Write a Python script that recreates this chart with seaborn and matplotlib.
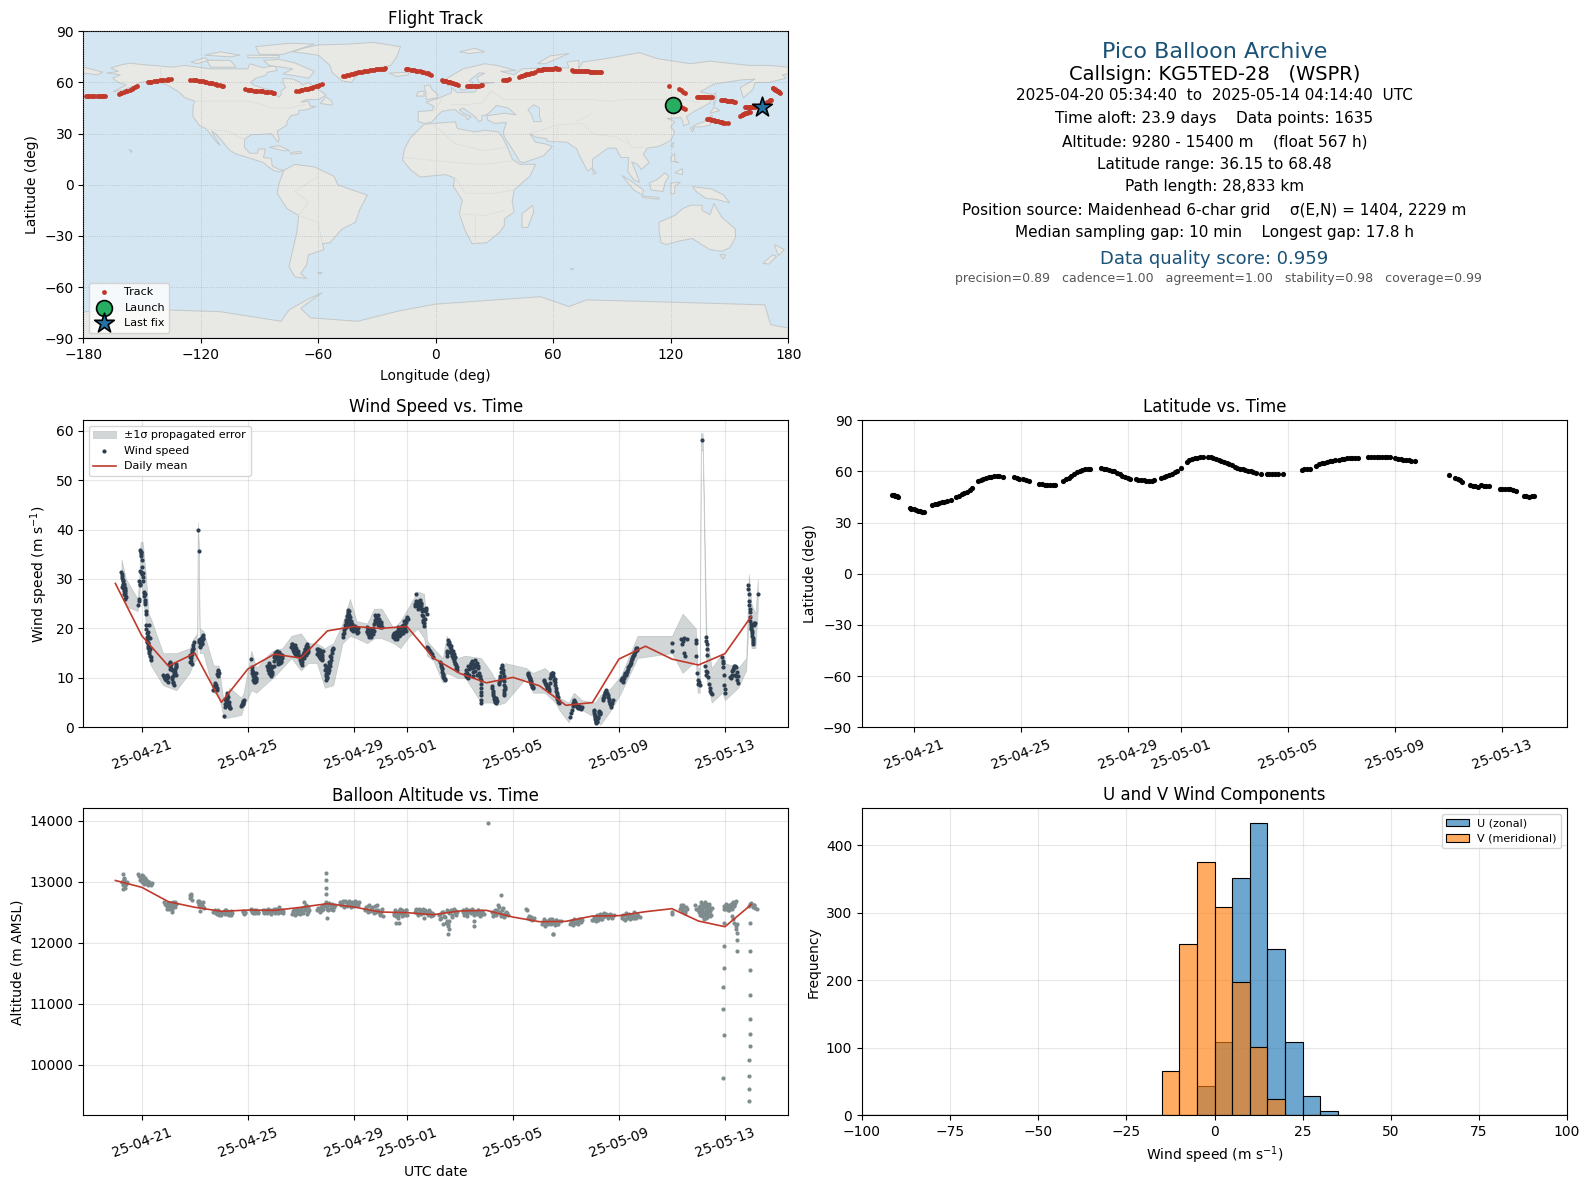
import numpy as np
import pandas as pd
import matplotlib
matplotlib.use('Agg')
import matplotlib.pyplot as plt
import matplotlib.dates as mdates
import seaborn as sns

# all times below are days after 2025-04-20 00:00 UTC
wind_t = [0.23,0.24,0.25,0.26,0.27,0.28,0.30,0.26,0.28,0.30,0.33,0.35,0.37,0.34,0.38,0.40,0.36,
          0.84,0.90,0.88,0.91,0.92,0.93,0.94,0.95,0.96,0.98,1.00,1.02,0.92,0.95,0.99,1.03,1.05,1.07,1.08,1.10,1.12,1.13,1.14,1.15,
          1.16,1.17,1.18,1.19,1.20,1.21,1.22,1.23,1.24,1.26,1.28,1.30,1.34,1.32,1.27,1.25,
          1.80,1.84,1.88,1.92,1.95,1.90,1.98,2.02,2.05,2.08,2.10,2.12,2.14,2.17,2.20,2.23,2.26,2.28,2.30,2.18,2.22,
          2.80,2.82,2.84,2.86,2.88,2.90,2.92,2.94,2.95,2.91,3.11,3.15,3.14,3.17,3.19,3.22,3.25,3.28,3.30,3.32,3.20,3.26,
          3.70,3.73,3.76,3.80,3.83,3.85,3.87,3.90,3.88,4.09,4.12,4.15,4.18,4.20,4.23,4.25,4.28,4.30,4.33,4.22,4.75,4.78,4.80,4.82,4.84,
          5.13,5.15,5.17,5.19,5.20,5.22,5.24,5.26,5.28,5.30,5.32,5.21,5.73,5.76,5.79,5.82,5.85,5.88,5.90,5.92,5.87,
          5.97,6.00,6.03,6.06,6.09,6.12,6.15,6.18,6.21,6.24,6.27,6.30,6.64,6.68,6.72,6.75,6.78,6.82,6.85,6.88,6.90,6.70,
          6.96,7.00,7.03,7.06,7.09,7.12,7.15,7.18,7.22,7.25,7.28,7.60,7.63,7.66,7.69,7.72,7.75,7.78,7.80,7.82,
          7.90,7.92,7.94,7.96,7.98,8.00,8.02,8.04,8.06,8.08,8.10,8.12,8.14,8.16,8.18,8.20,8.22,
          8.57,8.60,8.63,8.66,8.69,8.72,8.74,8.76,8.78,8.80,8.82,8.84,8.86,8.88,8.90,8.92,8.94,8.96,8.98,9.04,9.07,9.10,9.13,9.15,9.17,
          9.48,9.51,9.54,9.57,9.60,9.63,9.66,9.69,9.72,9.74,9.76,9.79,9.82,9.85,9.88,9.91,9.94,9.97,10.00,10.03,10.05,
          10.47,10.50,10.53,10.56,10.59,10.62,10.65,10.68,10.71,10.75,10.78,10.81,10.84,10.87,10.90,10.93,10.96,10.99,11.03,
          11.30,11.32,11.34,11.36,11.38,11.40,11.42,11.44,11.46,11.48,11.50,11.52,11.54,11.56,11.58,11.60,11.62,11.65,11.68,11.72,11.75,
          11.76,11.80,11.84,11.88,11.92,11.96,12.00,12.26,12.29,12.32,12.35,12.38,12.41,12.45,
          12.50,12.53,12.56,12.59,12.62,12.65,12.68,12.71,12.74,12.77,12.80,12.83,12.86,12.90,
          13.20,13.24,13.28,13.32,13.36,13.40,13.44,13.48,13.52,13.56,13.60,13.64,13.68,13.72,13.76,13.80,13.78,13.79,13.80,13.80,13.81,13.81,
          14.20,14.23,14.26,14.29,14.32,14.35,14.38,14.40,14.47,14.50,14.53,14.56,14.59,14.62,14.65,14.68,14.70,14.66,14.67,14.68,
          15.55,15.58,15.61,15.64,15.67,15.70,15.73,15.77,
          16.17,16.21,16.25,16.29,16.33,16.37,16.41,16.45,16.49,16.53,16.57,16.60,16.63,16.66,16.69,16.72,16.75,
          17.16,17.19,17.22,17.25,17.28,17.30,17.34,17.38,17.42,17.46,17.50,17.55,17.60,
          18.05,18.07,18.09,18.11,18.13,18.15,18.18,18.21,18.24,18.27,18.30,18.39,18.43,18.47,18.51,18.55,18.59,18.63,18.67,18.71,18.76,
          19.08,19.12,19.16,19.20,19.24,19.28,19.32,19.36,19.40,19.44,19.48,19.52,19.56,19.60,19.64,19.68,19.70,
          21.00,21.01,21.35,21.38,21.41,21.44,21.47,21.50,21.55,21.90,21.91,21.92,21.96,21.98,22.00,22.02,22.05,22.12,
          22.30,22.30,22.31,22.31,22.32,22.26,22.28,22.30,22.33,22.36,22.39,22.42,22.45,22.48,22.50,
          22.90,22.91,22.92,22.94,22.96,22.98,23.00,23.00,23.20,23.24,23.28,23.32,23.36,23.40,23.44,23.48,23.50,23.38,
          23.88,23.87,23.89,23.90,23.92,23.93,23.94,23.95,23.97,23.99,24.01,24.03,24.05,24.07,24.10,24.12,24.24]
wind_v = [31.5,31.0,30.6,30.2,29.8,29.0,28.5,28.3,28.7,28.2,28.6,28.1,27.5,27.0,26.8,26.3,26.0,
          24.7,25.6,26.0,29.5,29.0,31.6,35.8,35.4,35.0,35.5,33.9,31.3,28.7,31.4,31.0,31.2,29.5,27.4,27.2,27.0,25.3,25.0,23.5,23.0,
          20.7,19.8,19.0,18.3,17.8,17.5,17.0,16.4,16.0,15.5,15.0,14.5,13.6,18.0,20.6,19.2,
          10.5,10.2,9.8,10.3,10.0,9.5,10.1,12.8,13.2,12.5,12.0,11.5,9.7,9.1,8.6,10.9,11.8,12.4,12.8,10.4,11.4,
          14.2,14.6,14.0,13.5,12.8,15.2,16.1,16.6,17.2,14.9,40.0,35.6,17.6,17.2,16.5,17.9,16.9,17.6,18.0,18.7,17.0,18.2,
          7.5,8.4,8.9,8.1,7.9,10.8,11.4,11.0,11.6,2.2,4.2,4.8,5.4,6.3,7.0,5.0,4.5,4.2,3.9,6.5,4.4,4.6,5.0,5.4,5.6,
          13.9,11.5,10.9,10.3,9.5,9.2,10.6,9.1,10.0,9.7,9.9,11.1,12.3,11.6,12.6,10.8,11.8,10.4,11.2,12.2,12.0,
          12.5,13.5,14.6,15.2,14.8,13.2,12.8,14.7,14.2,13.4,14.5,14.0,16.3,16.8,15.9,15.2,14.8,16.1,15.5,15.0,14.4,15.7,
          13.6,13.0,12.6,13.9,14.8,15.3,15.8,16.4,16.8,15.6,15.2,14.9,15.3,15.8,14.5,14.0,15.1,14.2,13.8,15.5,
          12.7,11.5,10.8,9.5,10.2,11.0,11.9,11.2,12.6,13.1,12.4,13.6,14.3,15.0,15.6,16.1,15.8,
          18.3,18.9,19.6,20.6,21.2,20.2,22.5,23.4,23.8,22.8,23.5,21.5,20.8,21.6,21.0,19.9,20.6,20.0,19.4,20.4,19.5,19.0,19.8,19.2,20.0,
          20.2,19.4,18.9,18.3,19.7,19.0,18.6,19.2,20.1,19.4,20.8,21.4,22.3,22.6,21.6,22.7,21.5,21.2,20.4,20.9,20.2,
          18.2,18.8,18.5,17.9,19.1,18.4,19.6,20.3,19.3,18.6,19.5,20.2,19.0,20.7,21.5,20.1,21.7,22.3,21.9,
          25.0,24.5,25.5,26.9,25.2,24.0,24.6,25.2,25.6,24.2,24.4,25.2,25.0,23.6,22.8,21.8,21.4,20.4,23.5,24.2,23.0,
          16.2,16.0,15.7,15.5,15.1,14.8,14.3,13.3,12.4,11.8,10.8,10.2,9.9,9.6,
          14.5,15.5,17.7,16.8,16.2,15.5,15.9,14.8,14.1,13.5,14.2,12.8,12.0,11.6,
          10.8,11.5,10.2,9.9,11.8,12.8,13.4,11.2,12.2,13.6,12.6,13.1,11.9,11.0,10.0,9.6,8.8,8.0,7.2,6.5,5.6,5.0,
          8.4,7.4,6.6,5.8,5.2,5.0,6.0,5.4,8.8,9.6,10.4,11.2,12.6,11.5,10.3,9.4,8.2,7.5,7.0,6.5,
          10.9,10.5,10.1,9.8,9.3,8.8,8.2,7.9,
          9.6,9.0,8.6,7.9,8.3,7.4,9.9,10.8,11.0,10.9,9.8,9.2,7.9,7.0,6.1,5.4,4.9,
          2.0,2.8,3.6,4.3,4.9,5.5,5.1,4.6,4.2,4.0,4.3,3.8,4.2,
          3.6,2.9,2.2,1.7,1.2,0.9,1.3,2.1,3.1,2.6,3.1,5.6,6.1,7.0,7.5,6.9,6.1,5.3,4.8,4.2,5.5,
          9.6,9.9,9.2,10.4,11.0,10.6,11.4,12.1,12.7,13.0,13.8,14.4,14.6,15.2,15.8,16.1,15.7,
          17.0,15.5,17.8,16.9,17.4,18.0,15.1,14.4,17.9,17.6,17.0,14.4,10.9,9.6,8.8,9.2,8.6,58.1,
          18.3,17.5,16.9,15.8,14.6,12.5,11.4,10.6,11.2,10.2,8.8,7.9,7.4,7.0,6.7,
          14.3,13.4,13.0,12.1,10.6,8.6,7.7,6.9,10.2,10.0,11.3,11.8,12.3,12.2,11.2,9.0,10.4,10.6,
          28.8,27.9,26.9,25.6,24.8,24.0,23.3,22.4,20.8,20.1,19.5,18.4,17.7,16.8,20.6,21.0,26.9]

# second pass over the same streaks, where the reference is thicker
wind_t2 = [0.28,0.31,0.33,0.36,0.38,0.97,1.01,1.04,1.09,1.11,1.19,1.22,1.25,1.28,1.31,1.33,
           1.86,1.94,2.00,2.06,2.11,2.15,2.19,2.24,2.27,2.29,2.83,2.87,2.89,2.93,3.18,3.21,3.24,3.27,3.29,
           3.78,3.82,3.86,4.14,4.17,4.21,4.24,4.27,4.31,4.79,4.81,4.83,
           5.16,5.18,5.23,5.25,5.27,5.29,5.31,5.75,5.78,5.81,5.84,5.86,5.89,5.91,
           5.99,6.02,6.05,6.08,6.11,6.14,6.17,6.20,6.23,6.26,6.29,
           6.66,6.69,6.73,6.76,6.80,6.83,6.86,6.89,6.98,7.02,7.05,7.08,7.11,7.14,7.17,7.20,7.24,7.27,
           7.62,7.65,7.68,7.71,7.74,7.77,7.79,7.81,7.93,7.95,7.97,7.99,8.01,8.03,8.05,8.07,8.09,
           8.62,8.68,8.71,8.75,8.77,8.79,8.81,8.83,8.85,8.87,8.89,8.91,8.93,8.95,8.97,
           9.50,9.53,9.56,9.59,9.62,9.65,9.68,9.71,9.78,9.81,9.84,9.87,9.90,9.93,9.96,9.99,10.02,
           10.49,10.52,10.55,10.58,10.61,10.64,10.67,10.70,10.73,10.76,10.80,10.83,10.86,10.89,10.92,10.95,10.98,11.01,
           11.33,11.37,11.41,11.45,11.49,11.53,11.57,11.61,11.64,11.67,11.70,11.73,12.28,12.31,12.34,12.37,12.40,12.43,
           12.52,12.55,12.58,12.61,12.64,12.67,12.70,12.73,12.76,12.79,12.82,12.85,12.88,
           13.22,13.26,13.30,13.34,13.38,13.42,13.46,13.50,13.54,13.58,13.62,13.66,13.70,13.74,
           14.22,14.25,14.28,14.31,14.34,14.37,14.49,14.52,14.55,14.58,14.61,14.64,14.67,14.69,
           15.57,15.60,15.63,15.66,15.69,15.72,15.75,
           16.19,16.23,16.27,16.31,16.35,16.39,16.43,16.47,16.51,16.55,16.59,16.62,16.65,16.68,16.71,
           17.32,17.36,17.40,17.44,17.48,17.52,17.58,
           18.06,18.08,18.10,18.12,18.14,18.16,18.20,18.23,18.26,18.29,18.41,18.45,18.49,18.53,18.57,18.61,18.65,18.69,18.73,
           19.10,19.14,19.18,19.22,19.26,19.30,19.34,19.38,19.42,19.46,19.50,19.54,19.58,19.62,19.66,
           23.22,23.26,23.30,23.34,23.38,23.42,23.46,23.96,23.98,24.00,24.02,24.04,24.06,24.08,24.11]
wind_v2 = [29.6,27.6,28.9,27.8,27.2,34.6,32.5,30.4,26.5,25.8,17.2,18.5,17.0,16.2,15.8,14.2,
           9.9,10.6,9.2,11.8,12.9,10.2,9.0,11.2,10.6,12.1,13.2,14.5,15.6,15.8,17.9,16.3,17.5,17.0,17.9,
           8.6,7.6,10.4,5.8,4.6,5.6,6.2,5.2,4.0,4.8,5.2,4.7,
           12.2,10.8,9.8,10.2,9.3,10.9,9.4,12.0,13.0,10.9,11.9,12.5,11.4,10.7,
           14.2,15.0,14.0,15.5,14.4,13.6,15.2,13.0,14.8,13.2,14.6,
           16.9,16.4,15.3,16.6,15.5,14.7,14.6,15.4,14.4,13.5,13.2,14.3,14.0,15.0,15.9,14.6,15.0,16.3,
           15.8,14.8,14.4,15.6,13.9,14.9,13.7,14.7,10.4,11.9,12.2,9.9,11.0,12.0,11.5,13.2,14.4,
           19.0,20.0,21.8,21.0,22.2,23.0,22.0,20.5,22.3,21.2,19.8,20.8,19.6,20.2,19.8,
           19.2,19.8,18.7,18.4,19.9,18.3,19.6,18.8,21.8,22.8,21.2,22.2,20.6,22.0,21.0,20.2,21.2,
           18.6,19.0,18.0,19.3,17.8,18.9,19.3,18.4,19.4,20.2,19.0,20.4,20.0,19.6,20.8,19.4,21.2,22.2,
           24.8,25.3,25.0,24.6,25.8,24.5,24.0,22.5,21.0,22.0,24.0,23.8,12.9,12.0,11.2,10.5,10.0,9.8,
           15.0,16.8,17.2,16.6,15.2,16.4,14.5,15.4,13.8,14.8,13.0,12.6,12.2,
           10.3,11.0,12.3,10.5,12.1,13.0,11.9,10.4,12.9,11.4,12.3,10.6,12.4,10.4,
           7.9,7.0,6.2,5.6,5.4,5.8,9.2,10.0,12.0,12.2,11.0,9.8,8.6,7.8,
           10.7,10.3,10.0,9.5,9.0,8.5,8.1,
           9.3,8.8,8.2,8.1,7.7,9.0,10.4,10.9,10.4,9.5,8.6,7.4,6.6,5.8,5.1,
           5.3,4.9,4.4,4.1,4.0,4.2,4.0,
           3.2,2.5,2.0,1.4,1.0,1.1,1.8,2.9,3.3,2.8,5.9,6.5,7.2,7.2,6.5,5.7,5.0,4.5,4.9,
           9.8,9.5,10.0,10.7,10.8,11.2,11.8,12.4,12.9,13.4,14.1,14.5,14.9,15.5,16.0,
           10.2,10.5,11.6,12.1,12.3,10.4,9.6,21.5,20.4,19.8,19.0,18.0,17.2,20.8,21.0]

band_t = [0.23,0.40,0.84,0.90,0.95,1.03,1.15,1.25,1.34,1.8,2.3,2.8,2.95,3.09,3.11,3.15,3.18,3.32,3.7,3.9,4.09,4.3,4.75,4.84,
          5.13,5.32,5.73,5.95,6.3,6.64,7.0,7.28,7.6,7.9,8.22,8.57,8.85,9.1,9.5,9.76,10.05,10.5,10.75,11.03,11.4,11.65,11.76,12.0,
          12.35,12.5,12.9,13.2,13.8,14.2,14.4,14.7,15.5,15.75,16.2,16.6,16.75,17.1,17.3,17.6,18.1,18.3,18.7,19.08,19.7,21.0,21.4,
          21.9,21.97,22.05,22.09,22.16,22.3,22.5,22.9,23.0,23.5,23.8,23.9,24.0,24.15,24.24]
band_lo = [28,24.5,23.5,26,30,27,21,14,12.5,8.5,7.5,11,13,14,38,34,15,15,7,6.5,1.8,2,2.5,4,7.5,7,9,10,12,14,11.5,13,13,8,8.5,17,18.5,18,17,18,18,17,16,18,20,18,14.5,13.5,
           9,11,10,10,5,5,4.5,5,10,7,7,5,3.5,1,4,3.5,2,0.5,3.5,7,14,15,11,13.5,7,7,56,56,10,5,7,5.5,8,11.5,22,16,16,24]
band_hi = [34,30,26,30,37.5,37.5,31,23,22,15,15,16,18,19,41.5,37,20,19.5,12.5,12.5,5,8,6,7,15.5,12,14.5,15.5,16,18.5,19,17,17,16,17,21,26,21.5,21,24,24,20,21.5,24,27.5,27,17.5,16,
           14,18.5,14,14.5,14,11,9,13,12,11,12,10,6,5,7,5.5,5,6.5,8,10.5,18.5,18.5,23,20,12,12,59.5,59.5,19,12,15,13,12,14,31,25,23,30]

mean_t = list(range(25))
wind_mean = [29.1,18.5,12.4,15.0,5.05,11.8,14.8,14.0,19.5,20.4,20.0,20.4,14.0,10.9,9.0,10.1,8.4,4.45,5.0,13.8,16.4,13.8,12.6,14.9,22.5]
alt_mean = [13020,12907,12672,12580,12514,12535,12530,12580,12640,12585,12503,12492,12459,12520,12530,12420,12344,12350,12437,12443,12508,12557,12355,12262,12628]

alt_t = [0.25,0.27,0.29,0.31,0.33,0.35,0.37,0.40,0.44,0.30,0.34,0.87,0.90,0.95,1.00,1.04,1.08,1.12,1.16,1.20,1.25,1.30,1.34,1.37,1.02,1.10,
         1.85,1.90,1.95,2.00,2.05,2.10,2.15,2.20,2.24,2.28,2.12,2.80,2.84,2.87,2.90,3.10,3.14,3.18,3.22,3.26,3.30,3.34,3.16,
         3.70,3.76,3.82,3.88,3.94,4.00,4.06,4.12,4.18,4.24,4.30,4.36,4.40,4.80,4.84,4.90,5.10,5.16,5.22,5.28,5.34,5.40,
         5.56,5.62,5.68,5.74,5.80,5.86,5.92,5.98,6.04,6.10,6.16,6.22,6.28,6.33,6.66,6.72,6.78,6.84,6.90,6.96,7.02,7.08,7.14,7.20,7.26,7.30,7.12,7.18,
         7.60,7.66,7.72,7.78,7.84,7.90,7.94,7.98,8.02,8.06,8.10,8.16,8.22,8.30,7.95,7.95,7.95,7.93,7.97,
         8.46,8.52,8.58,8.64,8.70,8.76,8.82,8.88,8.94,9.00,9.06,9.12,9.20,9.40,9.46,9.52,9.58,9.64,9.70,9.76,9.82,9.88,9.94,10.00,10.06,10.10,
         10.50,10.55,10.60,10.65,10.70,10.75,10.80,10.85,10.90,10.95,11.00,10.70,11.30,11.36,11.42,11.48,11.54,11.60,11.66,11.72,11.78,11.84,11.90,11.96,12.00,
         12.20,12.26,12.32,12.38,12.44,12.50,12.54,12.56,12.58,12.60,12.66,12.72,12.78,12.84,12.90,12.57,
         13.10,13.16,13.22,13.28,13.34,13.40,13.46,13.52,13.58,13.64,13.70,13.76,13.82,13.90,13.55,13.55,
         14.20,14.26,14.32,14.38,14.44,14.50,14.56,14.62,14.68,14.74,14.80,14.05,14.55,
         15.50,15.52,15.56,15.60,15.64,15.68,15.72,15.80,16.10,16.16,16.22,16.28,16.34,16.40,16.46,16.52,16.58,16.64,16.70,16.80,16.50,
         17.15,17.20,17.25,17.30,17.35,17.40,17.45,17.50,17.55,17.60,18.00,18.06,18.12,18.18,18.24,18.30,18.36,18.42,18.48,18.54,18.60,18.66,18.72,18.80,
         19.10,19.16,19.22,19.28,19.34,19.40,19.46,19.52,19.58,19.64,19.70,19.80,21.00,21.01,21.30,21.35,21.40,21.45,21.50,21.55,
         21.88,21.90,22.00,22.03,22.06,22.09,22.12,22.15,22.18,22.21,22.24,22.27,22.30,22.33,22.36,22.39,22.42,22.45,22.50,22.10,22.20,22.30,22.40,22.15,22.25,22.35,
         22.95,23.00,23.05,23.10,23.15,23.20,23.25,23.30,23.35,23.40,23.28,23.32,23.36,23.40,23.42,
         22.96,22.96,22.95,22.94,22.94,22.95,22.94,23.44,23.44,23.45,23.46,23.94,23.95,23.95,23.94,23.94,23.93,23.93,23.92,23.92,23.91,23.91,
         23.90,23.95,24.00,24.05,24.10,24.15,24.20,23.98,24.08]
alt_v = [13000,12950,13120,13050,12990,12900,13000,12960,12990,12880,13060,13130,13090,13050,13000,13090,12960,13060,13020,12970,13000,12960,12940,12980,13110,13000,
         12670,12620,12560,12650,12590,12620,12510,12600,12670,12640,12540,12740,12800,12760,12700,12680,12610,12520,12640,12600,12660,12570,12680,
         12500,12530,12470,12540,12490,12450,12510,12470,12530,12500,12460,12520,12480,12520,12470,12500,12550,12510,12530,12480,12520,12500,
         12530,12480,12510,12550,12500,12470,12520,12560,12490,12520,12580,12500,12540,12490,12470,12520,12450,12560,12490,12470,12530,12480,12560,12600,12500,12530,12670,12620,
         12530,12570,12510,12600,12550,12620,12670,12600,12540,12650,12560,12600,12530,12620,13136,13020,12890,12790,12410,
         12660,12610,12690,12590,12670,12620,12680,12590,12650,12600,12680,12640,12660,12530,12580,12510,12610,12550,12590,12480,12540,12620,12500,12450,12560,12430,
         12460,12530,12330,12400,12520,12560,12440,12510,12470,12540,12450,12320,12500,12560,12450,12530,12470,12550,12410,12510,12460,12540,12430,12480,12450,
         12450,12380,12510,12300,12420,12540,12150,12270,12350,12480,12530,12420,12560,12460,12500,12230,
         12500,12460,12560,12430,12520,12480,12550,12450,12510,12470,12540,12430,12510,12470,12350,12280,
         12500,12430,12540,12470,12610,12510,12440,12570,12420,12500,12450,13967,12780,
         12550,12530,12400,12440,12380,12420,12370,12400,12300,12380,12280,12360,12310,12390,12330,12150,12290,12370,12310,12350,12150,
         12310,12350,12290,12380,12320,12360,12300,12390,12340,12370,12370,12420,12360,12450,12400,12470,12390,12480,12430,12460,12400,12470,12420,12450,
         12400,12460,12370,12490,12420,12380,12450,12400,12500,12410,12460,12420,12510,12470,12550,12610,12520,12580,12490,12560,
         12620,12560,12530,12590,12450,12670,12560,12620,12480,12640,12510,12400,12600,12460,12560,12630,12520,12440,12570,12500,12380,12640,12550,12430,12660,12490,
         12600,12560,12630,12580,12540,12620,12590,12660,12600,12680,12430,12380,12330,12270,12230,
         12320,11940,11580,11270,10910,10480,9775,12040,11860,12300,12160,12330,11860,11550,11140,10745,10500,10300,10070,9810,9595,9400,
         12600,12640,12630,12590,12620,12570,12550,12650,12610]

alt_t2 = [0.26,0.32,0.36,0.93,0.98,1.06,1.14,1.18,1.22,1.28,1.32,
          1.88,1.93,1.98,2.03,2.08,2.13,2.18,2.22,2.26,2.82,3.12,3.16,3.20,3.24,3.28,3.32,
          3.73,3.79,3.85,3.91,3.97,4.03,4.09,4.15,4.21,4.27,4.33,4.38,4.82,4.88,5.13,5.19,5.25,5.31,5.37,
          5.59,5.65,5.71,5.77,5.83,5.89,5.95,6.01,6.07,6.13,6.19,6.25,6.31,6.69,6.75,6.81,6.87,6.93,6.99,7.05,7.11,7.17,7.23,7.28,
          7.63,7.69,7.75,7.81,7.87,7.92,7.99,8.04,8.08,8.13,8.19,8.25,
          8.49,8.55,8.61,8.67,8.73,8.79,8.85,8.91,8.97,9.03,9.09,9.15,
          9.43,9.49,9.55,9.61,9.67,9.73,9.79,9.85,9.91,9.97,10.03,
          10.52,10.58,10.63,10.68,10.73,10.78,10.83,10.88,10.93,10.98,
          11.33,11.39,11.45,11.51,11.57,11.63,11.69,11.75,11.81,11.87,11.93,11.98,
          12.23,12.29,12.35,12.41,12.47,12.52,12.55,12.63,12.69,12.75,12.81,12.87,
          13.13,13.19,13.25,13.31,13.37,13.43,13.49,13.55,13.61,13.67,13.73,13.79,13.85,
          14.23,14.29,14.35,14.41,14.47,14.53,14.59,14.65,14.71,14.77,
          16.13,16.19,16.25,16.31,16.37,16.43,16.49,16.55,16.61,16.67,16.73,
          17.18,17.28,17.38,17.48,17.58,18.03,18.09,18.15,18.21,18.27,18.33,18.39,18.45,18.51,18.57,18.63,18.69,18.75,
          19.13,19.19,19.25,19.31,19.37,19.43,19.49,19.55,19.61,19.67,19.73,
          21.33,21.38,21.43,21.48,21.53,22.02,22.05,22.08,22.11,22.14,22.17,22.20,22.23,22.26,22.29,22.32,22.35,22.38,22.41,22.44,22.47,
          22.98,23.03,23.08,23.13,23.18,23.23,23.28,23.33,23.38]
alt_v2 = [13000,13020,12950,13020,13060,13030,13000,13010,12950,12990,12970,
          12640,12600,12630,12560,12650,12580,12660,12620,12580,12780,12660,12640,12600,12650,12620,12590,
          12510,12490,12520,12460,12510,12480,12500,12540,12470,12510,12490,12450,12500,12480,12530,12490,12510,12530,12480,
          12500,12530,12480,12520,12540,12500,12530,12510,12550,12480,12560,12510,12520,12490,12540,12470,12510,12540,12560,12510,12590,12530,12470,12590,
          12560,12530,12590,12530,12600,12640,12560,12640,12610,12560,12640,12590,
          12630,12650,12600,12680,12600,12650,12610,12670,12640,12610,12660,12610,
          12550,12540,12600,12520,12570,12520,12600,12500,12540,12480,12500,
          12490,12430,12510,12450,12530,12480,12540,12500,12450,12530,
          12530,12480,12550,12500,12540,12480,12530,12500,12470,12510,12450,12470,
          12470,12400,12510,12430,12320,12360,12300,12500,12450,12540,12490,12520,
          12530,12500,12480,12530,12500,12530,12490,12520,12490,12530,12500,12460,12520,
          12480,12500,12450,12530,12580,12480,12530,12470,12450,12480,
          12340,12360,12320,12340,12370,12300,12380,12340,12370,12300,12350,
          12330,12340,12320,12370,12380,12370,12400,12420,12370,12430,12390,12470,12440,12470,12450,12430,12450,12400,
          12430,12390,12450,12400,12470,12430,12460,12400,12440,12470,12430,
          12580,12540,12610,12520,12590,12500,12600,12480,12560,12640,12500,12590,12460,12620,12540,12420,12560,12600,12480,12540,12450,
          12550,12600,12620,12530,12590,12640,12560,12620,12650]

lat_t = [0.20,0.26,0.32,0.38,0.43,0.85,0.92,1.00,1.08,1.16,1.24,1.32,1.40,1.70,1.78,1.86,1.95,2.05,2.15,2.25,2.40,2.60,2.70,2.80,2.90,3.00,3.10,3.20,
         3.40,3.50,3.60,3.70,3.80,3.90,4.00,4.10,4.20,4.35,4.75,4.85,4.95,5.10,5.20,5.30,5.70,5.80,5.90,6.00,6.10,6.20,6.30,
         6.60,6.70,6.80,6.90,7.00,7.10,7.20,7.30,7.40,7.50,7.60,8.00,8.10,8.20,8.30,8.40,8.50,8.60,8.70,8.80,8.90,9.00,9.10,
         9.30,9.40,9.50,9.60,9.70,9.80,9.90,10.00,10.25,10.35,10.45,10.55,10.65,10.75,10.85,11.00,11.20,11.30,11.40,11.50,11.60,11.70,11.80,
         12.00,12.10,12.20,12.30,12.40,12.50,12.60,12.70,12.80,12.90,13.00,13.10,13.20,13.30,13.40,13.50,13.60,13.70,13.80,14.00,14.20,14.30,14.40,14.50,14.60,14.80,
         15.50,15.60,15.70,15.80,16.05,16.15,16.25,16.35,16.45,16.55,16.65,16.75,16.90,17.00,17.10,17.20,17.30,17.40,17.50,17.60,
         18.00,18.10,18.20,18.30,18.40,18.50,18.60,18.70,18.80,19.00,19.10,19.20,19.30,19.40,19.50,19.60,19.75,
         21.00,21.25,21.33,21.42,21.50,21.80,21.90,22.00,22.10,22.20,22.30,22.40,22.50,22.90,23.00,23.10,23.20,23.30,23.40,23.50,23.80,23.90,24.00,24.10,24.18]
lat_v = [46.4,46.2,45.8,45.5,45.0,38.6,38.2,37.9,37.5,37.1,36.8,36.4,36.2,40.2,40.8,41.2,41.6,42.0,42.3,42.5,43.0,45.2,45.8,46.6,47.4,48.2,49.2,50.2,
         54.5,55.2,55.8,56.2,56.6,56.9,57.2,57.3,57.1,56.8,56.6,56.2,55.8,55.4,55.0,54.6,52.8,52.5,52.3,52.2,52.0,52.0,52.3,
         54.6,55.4,56.2,57.2,58.4,59.4,60.2,60.8,61.2,61.4,61.6,61.8,61.6,61.4,61.0,60.5,60.0,59.3,58.4,57.6,56.8,56.0,55.6,
         55.3,55.1,54.9,54.8,54.7,54.6,54.7,54.8,56.2,56.8,57.4,58.0,58.8,59.6,60.4,62.0,65.5,66.5,67.2,67.8,68.1,68.3,68.4,
         68.4,68.2,67.9,67.5,67.0,66.4,65.6,64.9,64.2,63.6,62.8,62.2,61.6,61.2,60.9,60.5,60.1,59.7,59.2,58.6,58.4,58.5,58.6,58.7,58.6,58.7,
         61.0,61.2,61.4,61.6,63.4,64.2,64.8,65.2,65.6,66.0,66.3,66.6,67.0,67.2,67.4,67.7,67.8,67.9,68.0,68.1,
         68.3,68.4,68.4,68.4,68.3,68.3,68.4,68.3,68.2,68.0,67.4,67.1,67.0,66.8,66.6,66.4,66.2,
         58.0,56.2,55.5,54.8,54.0,52.0,51.5,51.2,51.0,51.8,51.4,51.2,51.4,50.0,49.8,49.6,49.8,49.5,49.2,48.8,45.8,45.4,45.2,45.4,45.8]

track_lon = [-178.7,-177.5,-176,-174.5,-173,-171.5,-170,-169,-162,-160.5,-159,-157.5,-156,-154.5,-153.5,-152.6,
             -147,-145.5,-144,-142.5,-141,-139.5,-138,-136.5,-135,-125.6,-124,-122.5,-121,-119,-117.5,-116,-114.5,-113,-111.5,-110,-108.5,
             -97.4,-96,-94.5,-93,-91.5,-90,-88.5,-87,-85.5,-84,-82.5,-71.4,-70,-68.5,-67,-65.5,-64,-62.5,-61,-59.5,-58,
             -47.4,-45.5,-43.5,-41.5,-39.5,-37.5,-35.5,-33.5,-31.5,-29.5,-27.5,-25.8,-15.4,-14,-12.5,-11,-9.5,-8,-6.5,-5,-3.5,-2.3,
             3,4.5,6,7.5,9,10.5,11.5,16,17.5,19,20.5,22,23.8,34.1,35.2,36.4,37.5,42.7,44,45.5,47,48.5,50.5,52.4,54,55.5,57,58.5,60,61.5,62.8,
             69.3,71,72.5,74,75.5,77,78.5,80,81.5,83,84.4,
             119,124,125,126,127.2,133.2,134.7,136.2,137.7,139.2,141,145.4,147,148.5,150,151.5,153,
             122,123.5,125.3,126,127,138.4,139.8,141.2,142.6,144,145.4,146.8,147.8,149,
             155.3,156.2,157,158,159,159.8,160.5,158,159.2,160.4,161.6,163,168.4,169.2,170,171,172,172.8,173.4,174,175,176]
track_lat = [52.3,52.2,52.1,52.0,52.0,52.1,52.0,52.0,53.3,54.0,54.6,55.2,55.8,56.5,57.2,58.0,
             60.0,60.4,60.8,61.0,61.3,61.4,61.6,61.8,61.9,61.5,61.4,61.2,61.0,60.6,60.2,59.9,59.5,59.1,58.7,58.4,58.0,
             56.0,55.7,55.4,55.2,55.0,54.9,54.8,54.7,54.5,54.3,54.0,54.8,55.1,55.5,55.9,56.3,56.8,57.3,57.9,58.5,59.0,
             63.8,64.3,64.9,65.4,65.9,66.4,66.9,67.2,67.5,67.8,68.0,68.3,68.0,67.8,67.5,67.2,66.9,66.5,66.1,65.6,65.1,64.6,
             61.3,60.9,60.5,60.1,59.6,59.1,58.7,58.2,58.1,58.1,58.2,58.2,58.3,61.3,61.5,61.7,61.9,63.4,63.9,64.4,65.0,65.5,66.0,67.3,67.6,67.8,68.0,68.1,68.1,68.2,68.1,
             67.1,67.0,66.9,66.8,66.7,66.6,66.4,66.3,66.2,66.1,66.0,
             57.8,56.0,55.4,54.5,53.6,51.5,51.5,51.4,51.4,51.5,51.5,49.7,49.6,49.4,49.2,48.9,48.6,
             46.0,45.8,45.8,45.2,44.3,38.8,38.4,38.0,37.6,37.2,36.8,36.5,36.3,36.1,
             40.4,41.0,41.6,42.0,42.3,42.5,42.7,45.4,45.5,45.5,45.4,45.4,47.8,48.4,49.0,50.0,57.0,56.4,55.8,55.2,54.6,54.0]
track_lon2 = [-177,-175,-172,-170.5,-161,-158,-155,-146,-143,-140,-137,-123,-120,-118,-115,-112,-109,-95,-92,-89,-86,-83,-69,-66,-63,-60,
              -46.5,-44.5,-42.5,-40.5,-38.5,-36.5,-34.5,-32.5,-30.5,-28.5,-26.5,-14.5,-12,-10,-7,-4,3.8,5.2,6.8,8.2,9.8,17,18,20,21,23,35.8,
              43.4,44.8,46.2,47.8,49.4,53,54.8,56.2,57.8,59.2,60.8,62,70,71.8,73,74.8,76.2,77.8,79,80.8,82,83.8,
              134,135.5,137,138.5,140,146,147.8,149,151,152.5,139,140.5,142,143.2,145,146,156.5,157.5,158.5,159.5,158.6,160,161,162.3,
              168.8,169.6,170.6,172.4,173,173.8,174.5,175.5]
track_lat2 = [52.2,52.1,52.0,52.0,53.7,54.9,56.2,60.2,60.9,61.4,61.7,61.3,60.8,60.4,59.7,58.9,58.2,55.5,55.1,54.8,54.6,54.1,55.3,56.1,57.0,58.2,
              64.0,64.6,65.2,65.6,66.2,66.7,67.0,67.4,67.7,67.9,68.1,67.9,67.4,67.0,66.3,65.3,61.1,60.7,60.3,59.8,59.3,58.1,58.2,58.2,58.2,58.3,61.6,
              63.6,64.2,64.7,65.2,65.8,67.5,67.7,67.9,68.1,68.1,68.2,68.1,67.0,66.9,66.9,66.7,66.6,66.5,66.4,66.2,66.1,66.0,
              51.5,51.4,51.4,51.4,51.5,49.6,49.5,49.3,49.0,48.7,38.6,38.2,37.8,37.4,37.0,36.6,41.2,41.8,42.2,42.4,45.4,45.5,45.5,45.4,
              48.2,48.7,49.5,56.7,56.0,55.5,54.9,54.2]

launch_lon, launch_lat = 121.2, 47.0
last_lon, last_lat = 166.7, 45.6

bin_centers = [-12.5,-7.5,-2.5,2.5,7.5,12.5,17.5,22.5,27.5,32.5]
u_counts = [0,0,44,109,352,433,247,109,29,6]
v_counts = [65,254,376,308,198,101,24,0,0,0]

# rough coastlines, lon/lat
land = [
 [(-168,65.5),(-162,66.5),(-166,68.5),(-160,70.5),(-156,71.3),(-150,70.5),(-141,69.7),(-135,69),(-128,70),(-125,69.5),(-115,68),(-110,68),(-102,68),(-96,68),(-95,71),(-92,70),(-88,68.5),(-85,69.5),(-82,69.5),(-81,67),(-86,66),(-87,64),(-92,62.5),(-94.5,60),(-93,58.5),(-88,56.5),(-83,55.2),(-82,52.8),(-80,51.3),(-79,53),(-79,55),(-76.7,57),(-78,60),(-78,62.4),(-73,62),(-70,60.5),(-68,58.5),(-65,60),(-62,57),(-58,54.5),(-56,52.5),(-60,50),(-66,50),(-69,48.5),(-65,49),(-64,46),(-61,46),(-66,44),(-70,43.5),(-70,41.5),(-74,40.5),(-76,37),(-76,35),(-81,31.5),(-80,27),(-80.5,25),(-82,27),(-84,30),(-90,29.5),(-94,29.5),(-97.5,27),(-97.8,22),(-95,18.5),(-91,18.5),(-90.5,21),(-87,21),(-88,16),(-84,15.5),(-83.5,11),(-80,9),(-77.5,8.5),(-80,7.5),(-83,8.5),(-86,11),(-88,13),(-92,14.5),(-96,16),(-102,18),(-105.5,20.5),(-109,25.5),(-112.5,30),(-114.5,31.5),(-112,26.5),(-110,23),(-112,25),(-115,29.5),(-117.5,33),(-120.5,34.5),(-124,40),(-124,46),(-123,49),(-128,51),(-132,55),(-138,59),(-146,61),(-151,60),(-154,58),(-160,55.5),(-165,54.5),(-158,58.5),(-162,60),(-165,62.5),(-161,64.5)],
 [(-73,78),(-68,80),(-60,82),(-45,82.5),(-32,83.5),(-18,81),(-20,75),(-23,70),(-32,68),(-40,65),(-43,60),(-48,61),(-53,66),(-54,70),(-58,74),(-60,76)],
 [(-80,73.5),(-72,71.5),(-62,66.5),(-65,62.5),(-72,64),(-78,65),(-73,68),(-85,70),(-88,73)],
 [(-117,73),(-105,73),(-102,69),(-115,69)],
 [(-90,76.5),(-78,76.5),(-62,82.5),(-75,83),(-92,81)],
 [(-125,72),(-118,74.5),(-116,73),(-122,71)],
 [(-96,74.5),(-80,74.5),(-80,75.8),(-96,76)],
 [(-118,76),(-105,75),(-100,76),(-110,78)],
 [(-59,47.7),(-53,46.7),(-53,49),(-56,51.5)],
 [(-85,22),(-80,23),(-74.5,20),(-78,20)],
 [(-74,19),(-69,19.5),(-68.5,18.5),(-74,18)],
 [(-24,65.5),(-14,66),(-14,64.5),(-20,63.5)],
 [(-156.5,20.8),(-155,19.7),(-155.8,19)],
 [(-60.5,-51.5),(-58,-51.5),(-59,-52.3)],
 [(68.8,-49),(70.5,-49.2),(69.5,-49.8)],
 [(-77.5,8.5),(-72,12),(-62,10.5),(-52,5),(-50,0),(-44,-2.5),(-35,-6),(-39,-15),(-41,-22),(-48,-26),(-54,-34),(-58,-34.5),(-57,-38),(-65,-41),(-66,-47),(-69,-52),(-66,-55),(-72,-54),(-75,-48),(-73,-38),(-71,-28),(-70,-18),(-76,-14),(-81,-5),(-80,1)],
 [(-6,35.5),(10,37),(11,33),(20,31),(25,32),(32,31),(34,28),(37,21),(39,15),(43,12),(51,12),(48,5),(40,-3),(39,-10),(40,-16),(35,-20),(35,-24),(32.5,-28),(26,-34),(18.5,-34.5),(15,-27),(12,-17),(13.5,-9),(9,-1),(9.5,4),(5,6),(-4,5),(-8,4.5),(-13,9),(-17,14.5),(-16,21),(-13,27.5),(-10,31)],
 [(-9,37),(-9,43),(-2,43.5),(-1,46),(-5,48.5),(2,51),(8,54),(8,57),(11,54),(20,54.5),(23,59),(30,60),(22,60),(21,63),(25,65.5),(22,65.5),(17,61),(19,60),(16,56),(13,55.5),(11,59),(6,58),(5,62),(14,68),(25,71),(31,70),(41,67),(33,66.5),(40,64.5),(44,68),(54,68.5),(68,68.5),(67,72),(73,73),(73,68),(75,72),(87,74),(104,77.5),(113,74),(130,71),(140,72.5),(160,70),(170,70),(180,69),(180,65),(177,64.5),(179,62.5),(170,60),(163,60),(162,56),(157,51),(155.5,57),(163,62),(156,61.5),(142,59),(135,54.5),(141,53),(140,48),(132,43),(128,40),(129.5,36),(126.5,34.5),(126,37.5),(125,39.5),(121,39),(118,39),(122,37),(120,34),(122,31),(120,26),(114,22.5),(108,21.5),(106,18),(109,13),(105,9),(103,12),(100,13.5),(103,5),(104,1.5),(101,3),(98,8),(98.5,16),(94.5,16),(92,21.5),(88,21.5),(80,15),(80,10),(77.5,8),(73,18),(72,21),(67,25),(57,25.5),(56.5,27),(51,28),(48,30),(51,25),(56,24),(59.5,22.5),(55,17),(45,13),(43,13.5),(39,21),(35,28),(34.5,31),(36,36.5),(30,36),(26.5,38),(26,40.5),(29,41),(35,42),(41,41),(37,45),(31,46.5),(28,43),(26,41),(23.5,40.5),(23.5,38),(22,37),(20,40),(14,45),(12,44),(14,42),(18,40),(16,38),(15.5,40),(12,42),(10,44),(8,44),(3,43),(0,39.5),(-2,36.8),(-5.5,36)],
 [(-180,69),(-170,66),(-173,64.5),(-180,65.5)],
 [(-5,50),(1,51),(1,53),(-2,56),(-3,58.5),(-6,58),(-5,54),(-5,52)],
 [(-10,52),(-6,52),(-6,55),(-9,54.5)],
 [(131,34),(136,34),(140,35),(141.5,38),(141,41),(140,40),(137,37),(133,35.5)],
 [(140,42),(145,43.5),(142,45.5)],
 [(130,33.5),(132,33),(131,31)],
 [(142,46),(143,50),(143,54),(142,53)],
 [(120,23),(121.5,25),(121,22)],
 [(80,9.5),(82,7),(80.5,6)],
 [(120,16),(122,18.5),(122,14),(124,13),(120,14)],
 [(122,7),(126,9.5),(126,6)],
 [(109,1),(113,3),(117,7),(119,5),(117,1),(116,-4),(110,-3)],
 [(95,5.5),(100,2),(106,-3),(105.5,-6),(101,-3)],
 [(105,-6.5),(114,-7.5),(114,-8.5),(106,-7.5)],
 [(120,1),(125,1.5),(122,-1),(122,-5),(120,-5.5)],
 [(131,-1),(141,-2.5),(147,-6),(150,-10.5),(143,-8.5),(138,-8),(133,-4)],
 [(114,-22),(122,-18),(126,-14),(130,-12),(136,-12),(136,-15),(140,-17.5),(142,-11),(146,-19),(153,-26),(153,-31),(150,-37),(146,-39),(140,-38),(135,-34.5),(131,-31.5),(124,-33),(118,-35),(115,-34),(114,-27)],
 [(145,-41),(148,-41),(147,-43.5)],
 [(173,-35),(178,-38),(175,-41.5),(174,-39)],
 [(172,-41),(174,-42),(170,-46.5),(167,-46)],
 [(49.5,-12),(50,-16),(47,-25),(44,-25),(44,-17)],
 [(12,78),(20,80),(25,78),(17,77)],
 [(52,71),(56,71),(68,77),(58,75.5)],
 [(-180,-74.4),(-137,-73.4),(-110,-74.4),(-79,-80),(-75,-73.4),(-66,-67.5),(-58,-63.2),(-69,-72.4),(-64,-78),(-40,-80),(-19,-74),(-0.5,-70),(53.5,-65.6),(68,-71.4),(77,-67.5),(111,-68.5),(168,-70.4),(171,-82),(180,-84),(180,-90),(-180,-90)],
]
caspian = [(50,47),(53,45),(53,40),(54,37),(50,37),(49,41),(47,44)]
borders = [
 [(-123,49),(-95,49),(-83,45),(-75,45),(-67,47)],
 [(-141,69.7),(-141,60)],
 [(-117,32.5),(-106,31.5),(-97,26)],
 [(-70,-18),(-60,-22),(-58,-34)],
 [(-70,-18),(-65,-10),(-72,-4),(-60,5)],
 [(-2,36),(10,24),(25,20),(36,22)],
 [(-16,16),(10,13),(25,12),(38,14)],
 [(10,4),(15,-5),(30,-5),(40,-3)],
 [(12,-17),(25,-18),(35,-15)],
 [(20,-35),(20,-18)],
 [(28,55),(35,50),(48,50),(60,50),(80,50),(88,49),(98,50),(115,50),(127,50),(135,48)],
 [(48,30),(62,35),(62,25)],
 [(62,35),(75,36),(80,30),(92,28),(98,24)],
 [(80,42),(72,37)],
 [(8,47),(15,47),(24,48),(28,55)],
 [(-1,43),(3,50)],
 [(97,28),(100,22),(106,22)],
]

C_RED = '#c0392b'
C_NAVY = '#2c3e50'
C_GREY = '#7f8c8d'
C_TITLE = '#1a5276'
W, H = 1590, 1189
base = pd.Timestamp('2025-04-20')


def to_dates(days):
    return base + pd.to_timedelta(np.asarray(days, dtype=float), unit='D')


def make_ax(x0, y0, x1, y1):
    return fig.add_axes([x0 / W, 1 - y1 / H, (x1 - x0) / W, (y1 - y0) / H])


def date_axis(ax, d0, d1):
    ax.set_xlim(to_dates([d0, d1]))
    ax.xaxis.set_major_locator(mdates.DayLocator(bymonthday=[1, 5, 9, 13, 17, 21, 25, 29]))
    ax.xaxis.set_major_formatter(mdates.DateFormatter('%y-%m-%d'))
    ax.tick_params(axis='x', labelrotation=20)
    ax.grid(True, alpha=0.3)
    ax.set_axisbelow(True)


fig = plt.figure(figsize=(W / 100, H / 100), dpi=100)

# map
ax = make_ax(83.3, 31.3, 788.3, 338.3)
ax.set_facecolor('#d4e6f1')
for poly in land:
    xs, ys = zip(*poly)
    ax.fill(xs, ys, facecolor='#e8e8e4', edgecolor='#c3c8ca', lw=0.7, zorder=1)
xs, ys = zip(*caspian)
ax.fill(xs, ys, facecolor='#d4e6f1', edgecolor='#c3c8ca', lw=0.6, zorder=1)
for line in borders:
    xs, ys = zip(*line)
    ax.plot(xs, ys, color='#dcdfdd', lw=0.6, zorder=1.5)
sns.scatterplot(x=track_lon + track_lon2, y=track_lat + track_lat2, s=12, color=C_RED, linewidth=0, ax=ax, label='Track', zorder=3)
ax.scatter([launch_lon], [launch_lat], s=130, c='#27ae60', edgecolors='k', linewidths=1.2, label='Launch', zorder=4)
ax.scatter([last_lon], [last_lat], s=220, c='#2471a3', marker='*', edgecolors='k', linewidths=1.2, label='Last fix', zorder=4)
ax.set_xlim(-180, 180)
ax.set_ylim(-90, 90)
ax.set_xticks(np.arange(-180, 181, 60))
ax.set_yticks(np.arange(-90, 91, 30))
ax.grid(True, ls=':', lw=0.6, color='#9aa5ab', alpha=0.6, zorder=2)
ax.set_axisbelow(False)
ax.set_title('Flight Track', fontsize=12, pad=5.4)
ax.set_xlabel('Longitude (deg)', labelpad=4.7)
ax.set_ylabel('Latitude (deg)')
ax.legend(loc='lower left', fontsize=8)

# summary text
ax_txt = make_ax(862, 31.3, 1567, 338.3)
ax_txt.axis('off')
info = [
    (52, 'Pico Balloon Archive', 16, C_TITLE, 0),
    (74, 'Callsign: KG5TED-28   (WSPR)', 14, 'k', 0),
    (96, '2025-04-20 05:34:40  to  2025-05-14 04:14:40  UTC', 11, 'k', 0),
    (119, 'Time aloft: 23.9 days    Data points: 1635', 11, 'k', 0),
    (142, 'Altitude: 9280 - 15400 m    (float 567 h)', 11, 'k', 0),
    (165, 'Latitude range: 36.15 to 68.48', 11, 'k', 0),
    (187, 'Path length: 28,833 km', 11, 'k', 0),
    (210, 'Position source: Maidenhead 6-char grid    σ(E,N) = 1404, 2229 m', 11, 'k', 0),
    (233, 'Median sampling gap: 10 min    Longest gap: 17.8 h', 11, 'k', 0),
    (259, 'Data quality score: 0.959', 13, C_TITLE, 0),
    (279, 'precision=0.89   cadence=1.00   agreement=1.00   stability=0.98   coverage=0.99', 9, '#555555', 4),
]
for y, s, size, col, dx in info:
    fig.text((1214.5 + dx) / W, 1 - y / H, s, fontsize=size, color=col, ha='center', va='center')

# wind speed
ax = make_ax(83.3, 420.3, 788.3, 727.3)
ax.fill_between(to_dates(band_t), band_lo, band_hi, color=C_GREY, alpha=0.35, lw=0.5, label='±1σ propagated error')
sns.scatterplot(x=to_dates(wind_t + wind_t2), y=wind_v + wind_v2, s=9, color=C_NAVY, linewidth=0, ax=ax, label='Wind speed', zorder=3)
sns.lineplot(x=to_dates(mean_t), y=wind_mean, color=C_RED, lw=1.2, ax=ax, label='Daily mean', errorbar=None, zorder=4)
date_axis(ax, -1.21, 25.39)
ax.set_ylim(0, 62.1)
ax.set_title('Wind Speed vs. Time', fontsize=12)
ax.set_xlabel('')
ax.set_ylabel('Wind speed (m s$^{-1}$)')
ax.legend(loc='upper left', fontsize=8)

# latitude
ax = make_ax(862, 420.3, 1567, 727.3)
sns.scatterplot(x=to_dates(lat_t), y=lat_v, s=14, color='k', linewidth=0, ax=ax)
date_axis(ax, -0.93, 25.42)
ax.set_ylim(-90, 90)
ax.set_yticks(np.arange(-90, 91, 30))
ax.set_title('Latitude vs. Time', fontsize=12)
ax.set_xlabel('')
ax.set_ylabel('Latitude (deg)')

# altitude
ax = make_ax(83.3, 808.3, 788.3, 1115.3)
sns.scatterplot(x=to_dates(alt_t + alt_t2), y=alt_v + alt_v2, s=9, color=C_GREY, linewidth=0, ax=ax, zorder=3)
sns.lineplot(x=to_dates(mean_t), y=alt_mean, color=C_RED, lw=1.2, ax=ax, errorbar=None, zorder=4)
date_axis(ax, -1.21, 25.39)
ax.set_ylim(9170, 14203)
ax.set_title('Balloon Altitude vs. Time', fontsize=12, pad=5.4)
ax.set_xlabel('UTC date')
ax.set_ylabel('Altitude (m AMSL)')

# histogram
ax = make_ax(862, 808.3, 1567, 1115.3)
sns.histplot(x=bin_centers, weights=u_counts, bins=40, binrange=(-100, 100), color='tab:blue', alpha=0.65, edgecolor='k', linewidth=0.8, ax=ax, label='U (zonal)')
sns.histplot(x=bin_centers, weights=v_counts, bins=40, binrange=(-100, 100), color='tab:orange', alpha=0.65, edgecolor='k', linewidth=0.8, ax=ax, label='V (meridional)')
ax.set_xlim(-100, 100)
ax.set_ylim(0, 455)
ax.grid(True, alpha=0.3)
ax.set_axisbelow(True)
ax.set_title('U and V Wind Components', fontsize=12)
ax.set_xlabel('Wind speed (m s$^{-1}$)')
ax.set_ylabel('Frequency')
ax.legend(loc='upper right', fontsize=8)

fig.savefig('out.png', dpi=100)
